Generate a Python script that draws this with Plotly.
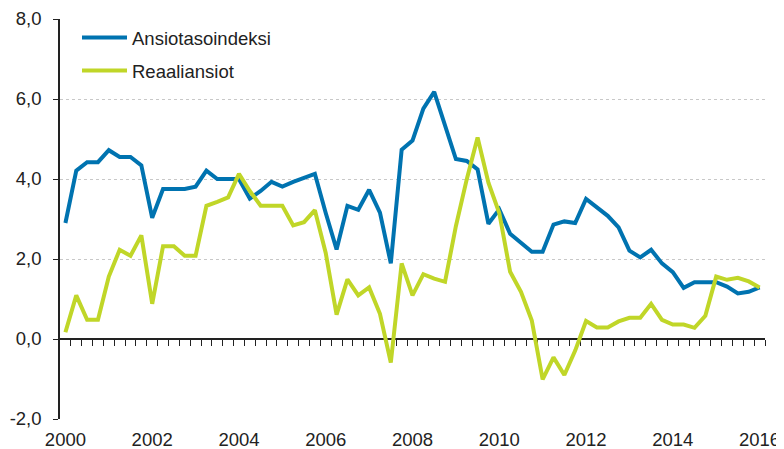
import plotly.graph_objects as go

# Quarterly data 2000Q1 .. 2016Q1
start_year = 2000
ansiotasoindeksi = [
    2.90, 4.21, 4.42, 4.42, 4.72, 4.55, 4.55, 4.34,
    3.03, 3.75, 3.75, 3.75, 3.81, 4.21, 4.00, 4.00,
    4.00, 3.51, 3.70, 3.93, 3.81, 3.93, 4.02, 4.13,
    3.15, 2.24, 3.33, 3.23, 3.73, 3.16, 1.89, 4.73,
    4.96, 5.76, 6.18, 5.34, 4.50, 4.45, 4.24, 2.88,
    3.24, 2.63, 2.39, 2.18, 2.18, 2.86, 2.94, 2.90,
    3.50, 3.29, 3.08, 2.79, 2.21, 2.04, 2.23, 1.89,
    1.67, 1.28, 1.42, 1.42, 1.42, 1.31, 1.14, 1.18,
    1.29,
]
reaaliansiot = [
    0.17, 1.09, 0.48, 0.48, 1.56, 2.23, 2.08, 2.59,
    0.88, 2.32, 2.32, 2.08, 2.08, 3.33, 3.43, 3.54,
    4.13, 3.70, 3.33, 3.33, 3.33, 2.84, 2.92, 3.22,
    2.15, 0.61, 1.49, 1.09, 1.29, 0.63, -0.59, 1.89,
    1.09, 1.62, 1.51, 1.43, 2.82, 3.99, 5.04, 3.91,
    3.15, 1.68, 1.18, 0.46, -1.01, -0.46, -0.90, -0.29,
    0.45, 0.29, 0.29, 0.44, 0.53, 0.53, 0.88, 0.48,
    0.36, 0.36, 0.28, 0.58, 1.56, 1.48, 1.53, 1.44,
    1.29,
]
series_names = ["Ansiotasoindeksi", "Reaaliansiot"]
year_ticks = [2000, 2002, 2004, 2006, 2008, 2010, 2012, 2014, 2016]
y_ticks = [-2, 0, 2, 4, 6, 8]
y_ticktext = [f"{v:.1f}".replace(".", ",") for v in y_ticks]

x = [start_year + i * 0.25 for i in range(len(ansiotasoindeksi))]
quarter_bounds = [start_year + 0.125 + 0.25 * k for k in range(len(x))]

blue = "rgb(0,115,176)"
green = "rgb(192,214,40)"
font = dict(family="Liberation Sans, Arial, sans-serif", size=18.5, color="#222222")

fig = go.Figure()
fig.add_trace(go.Scatter(x=x, y=ansiotasoindeksi, mode="lines", name=series_names[0],
                         line=dict(color=blue, width=4), legendgroup="a",
                         xaxis="x", yaxis="y"))
fig.add_trace(go.Scatter(x=x, y=reaaliansiot, mode="lines", name=series_names[1],
                         line=dict(color=green, width=4), legendgroup="b",
                         xaxis="x2", yaxis="y"))

xr = [start_year - 0.125, year_ticks[-1] + 0.125]
# the page body has an 8px margin, so the figure is sized to end at the window edge
fig.update_layout(
    width=776, height=441,
    margin=dict(l=52, r=19, t=11, b=30, autoexpand=False),
    paper_bgcolor="white", plot_bgcolor="white",
    font=font,
    showlegend=True,
    legend=dict(x=17 / 705, y=1.0, xanchor="left", yanchor="top",
                bgcolor="rgba(0,0,0,0)", font=font, traceorder="grouped",
                tracegroupgap=6, itemwidth=45),
    xaxis=dict(range=xr, tickmode="array", tickvals=year_ticks,
               ticktext=[str(v) for v in year_ticks], showgrid=False,
               zeroline=False, showline=False, ticks="", tickfont=font,
               automargin=False, ticklabelstandoff=7),
    xaxis2=dict(range=xr, overlaying="x", anchor="free", position=0.2,
                side="bottom", tickmode="array", tickvals=quarter_bounds,
                ticks="outside", ticklen=6, tickwidth=1, tickcolor="#222222",
                showticklabels=False, showgrid=False, zeroline=False,
                showline=True, linecolor="#222222", linewidth=1.5,
                layer="below traces", automargin=False),
    yaxis=dict(range=[-2, 8], tickmode="array", tickvals=y_ticks,
               ticktext=y_ticktext, showgrid=True, gridcolor="#c8c8c8",
               griddash="dot", gridwidth=1, zeroline=False, showline=True,
               linecolor="#222222", linewidth=1.5, ticks="outside", ticklen=5,
               tickcolor="#222222", ticklabelstandoff=8, tickfont=font,
               automargin=False),
)
fig.write_html("out.html")
